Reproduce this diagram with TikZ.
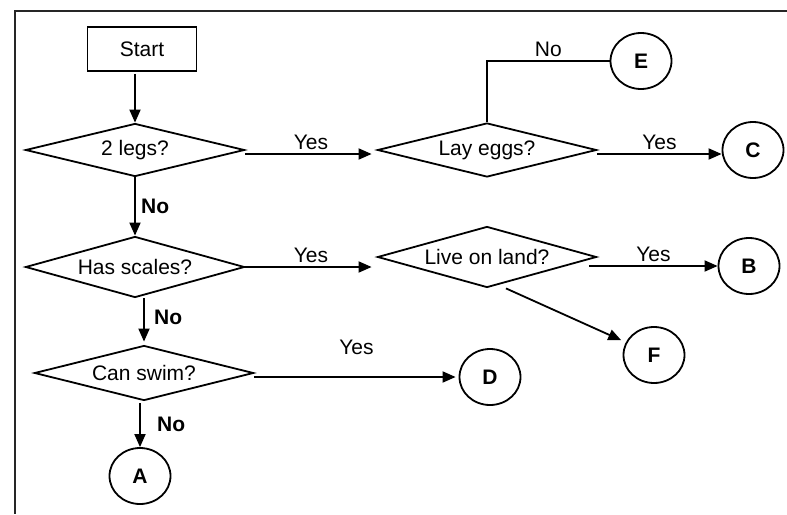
\documentclass[tikz,border=0pt]{standalone}
\usepackage{fontspec}
\setmainfont{Liberation Sans}
\usetikzlibrary{shapes.geometric,arrows.meta}

\begin{document}
\begin{tikzpicture}
[x=1pt, y=-1pt, line width=1.8pt,
 every node/.style={font=\fontsize{21}{25}\selectfont, align=center},
 box/.style={shape=rectangle, draw, minimum width=109pt, minimum height=44pt},
 question/.style={shape=diamond, draw, aspect=3.6, inner sep=0pt, minimum width=219pt},
 leaf/.style={shape=ellipse, draw, inner sep=0pt, minimum width=61pt, minimum height=56pt,
              font=\fontsize{21}{25}\selectfont\bfseries},
 answer/.style={font=\fontsize{21}{25}\selectfont\bfseries},
 arrow/.style={-{Triangle[length=13pt,width=11pt]}}]
\useasboundingbox (0,0) rectangle (787,514);
\draw [line width=2pt, black!85] (14,11) -- (787,11);
\draw [line width=2.4pt, black!85] (15,10) -- (15,514);

\node (1) at (142,49) [box] {Start};
\node (2) at (135,150) [question, minimum height=53pt] {2 legs?};
\node (3) at (135,267) [question, minimum height=61pt] {Has scales?};
\node (4) at (144,373) [question, minimum height=55pt] {Can swim?};
\node (5) at (487,150) [question, minimum height=54pt] {Lay eggs?};
\node (6) at (487,257) [question, minimum height=61pt] {Live on land?};
\node (7) at (140,476) [leaf] {A};
\node (8) at (749,266) [leaf] {B};
\node (9) at (753,150) [leaf] {C};
\node (10) at (490,377) [leaf] {D};
\node (11) at (641,61) [leaf] {E};
\node (12) at (654,355) [leaf] {F};

\draw [arrow, shorten <=2pt] (1.south -| 2.north) -- (2.north);
\draw [arrow] (2.south) -- (3.north) node [midway, right=2pt, answer] {No};
\draw [arrow, shorten >=3pt] (3.south -| 4.north) -- (4.north) node [pos=0.4, right=6pt, answer] {No};
\draw [arrow, shorten <=2pt] (7.north |- 4.south) -- (7.north) node [midway, right=13pt, answer] {No};
\draw [arrow, shorten >=5pt] ([yshift=-4pt]2.east) -- ([yshift=-4pt]5.west) node [midway, above] {Yes};
\draw [arrow] ([yshift=-4pt]5.east) -- ([yshift=-4pt]9.west) node [midway, above] {Yes};
\draw (5.north) |- (11.west) node [pos=0.75, above] {No};
\draw [arrow, shorten >=5pt] (3.east) -- (3.east -| 6.west) node [midway, above] {Yes};
\draw [arrow] (6.east |- 8.west) ++(-8,0) -- (8.west) node [midway, above] {Yes};
\draw [arrow, shorten >=5pt] ([xshift=19pt]6.south) -- (12);
\draw [arrow, shorten >=3pt] (4.east |- 10.west) -- (10.west) node [midway, above=18pt] {Yes};
\end{tikzpicture}
\end{document}
